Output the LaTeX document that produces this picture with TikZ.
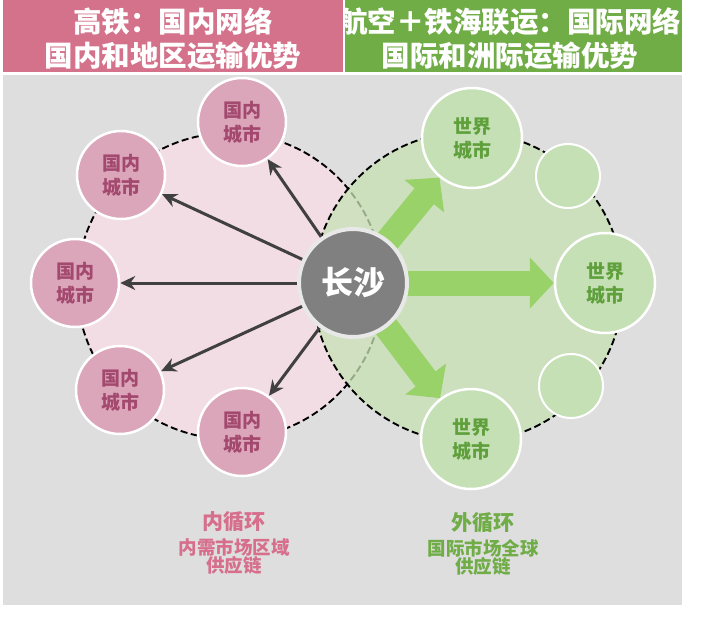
\documentclass[tikz,border=0pt]{standalone}
\usepackage{fontspec}
\setmainfont{Noto Sans CJK SC}
\usetikzlibrary{arrows.meta}

\definecolor{bggray}{RGB}{222,222,222}
\definecolor{headpink}{RGB}{211,114,138}
\definecolor{headgreen}{RGB}{112,173,71}
\definecolor{ringpink}{RGB}{242,221,228}
\definecolor{ringgreen}{RGB}{198,226,180}
\definecolor{innerfill}{RGB}{219,166,186}
\definecolor{innertext}{RGB}{163,72,110}
\definecolor{worldfill}{RGB}{197,224,180}
\definecolor{worldtext}{RGB}{95,160,60}
\definecolor{hubgray}{RGB}{128,128,128}
\definecolor{arrowgray}{RGB}{64,64,64}
\definecolor{fatgreen}{RGB}{152,210,104}
\definecolor{labelpink}{RGB}{214,110,140}

\newcommand{\cityfont}{\fontsize{19}{24}\selectfont\bfseries}

\begin{document}
\begin{tikzpicture}[x=1pt,y=-1pt,
	inner/.style={circle, minimum size=88pt, inner sep=0pt, fill=innerfill,
		draw=white, line width=2.5pt, text=innertext, font=\cityfont, align=center},
	world/.style={circle, minimum size=100pt, inner sep=0pt, fill=worldfill,
		draw=white, line width=2.5pt, text=worldtext, font=\cityfont, align=center},
	spare/.style={circle, minimum size=64pt, inner sep=0pt, fill=worldfill,
		draw=white, line width=2pt},
	thinarrow/.style={draw=arrowgray, line width=3pt, -{Stealth[length=15pt,width=14pt]}},
	fatarrow/.style={draw=fatgreen, line width=25pt, -{Triangle[length=24pt,width=50pt]}},
	ringline/.style={line width=1.9pt, dash pattern=on 7pt off 3.5pt}
	]
	\useasboundingbox (0,0) rectangle (703,622);
	\fill[white] (0,0) rectangle (703,622);
	% Titel und Hintergrund
	\fill[bggray] (3,75) rectangle (682,605);
	\fill[headpink] (3,0) rectangle (343,72);
	\fill[headgreen] (345,0) rectangle (682,72);
	\node[text=white, font=\fontsize{28.5}{34}\selectfont\bfseries, align=center]
		(headL) at (173,39) {高铁：国内网络\\国内和地区运输优势};
	\begin{scope}
		\clip (345,0) rectangle (682,72);
		\node[text=white, font=\fontsize{28.5}{34}\selectfont\bfseries, align=center]
			(headR) at (510,39) {航空＋铁海联运：国际网络\\国际和洲际运输优势};
	\end{scope}
	% zwei Kreise
	\draw[ringline, fill=ringpink] (230,286) circle[radius=153];
	\draw[ringline, fill=ringgreen, fill opacity=0.75] (468,287) circle[radius=155];
	% Inlandsstaedte
	\node[inner] (in1) at (242,122) {国内\\城市};
	\node[inner] (in2) at (121,175) {国内\\城市};
	\node[inner] (in3) at (75,283) {国内\\城市};
	\node[inner] (in4) at (120,390) {国内\\城市};
	\node[inner] (in5) at (242,432) {国内\\城市};
	% Weltstaedte
	\node[world] (w1) at (472,138) {世界\\城市};
	\node[world] (w2) at (605,283) {世界\\城市};
	\node[world] (w3) at (471,439) {世界\\城市};
	\node[spare] (s1) at (568,176) {};
	\node[spare] (s2) at (571,386) {};
	% Pfeile
	\coordinate (cs) at (353,283);
	\foreach \t in {in1,in2,in3,in4,in5}
		\draw[thinarrow] (cs) -- (\t);
	\foreach \t in {w1,w2,w3}
		\draw[fatarrow] (cs) -- (\t);
	\node[circle, minimum size=108pt, inner sep=0pt, fill=hubgray,
		draw={rgb,255:red,232;green,232;blue,232}, line width=4pt, text=white,
		font=\fontsize{32}{36}\selectfont\bfseries] (hub) at (cs) {长沙};
	% Beschriftung unten
	\node[text=labelpink, font=\fontsize{18.5}{18.5}\selectfont\bfseries, align=center]
		(innerlbl) at (234,543) {{\fontsize{21}{18.5}\selectfont 内循环}\\[6pt]内需市场区域\\供应链};
	\node[text=headgreen, font=\fontsize{18.5}{18.5}\selectfont\bfseries, align=center]
		(outerlbl) at (483,544) {{\fontsize{21}{18.5}\selectfont 外循环}\\[6pt]国际市场全球\\供应链};
\end{tikzpicture}
\end{document}
